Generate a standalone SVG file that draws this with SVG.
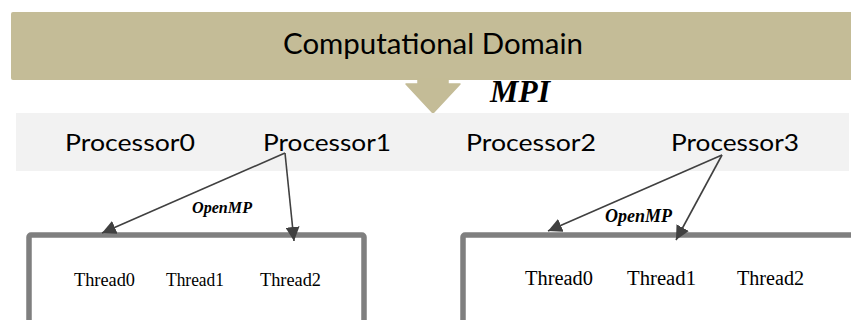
<svg xmlns="http://www.w3.org/2000/svg" width="851" height="320" viewBox="0 0 851 320">
  <style>
    .banner { fill: #C4BC97; }
    .band { fill: #F2F2F2; }
    .box { fill: #FFFFFF; stroke: #7F7F7F; stroke-width: 5.5; }
    .sans { font-family: Lato, "Open Sans", "Liberation Sans", sans-serif; fill: #000000; }
    .proc { font-size: 23px; }
    .title { font-size: 29px; }
    .serif { font-family: "Liberation Serif", "DejaVu Serif", serif; fill: #000000; }
    .label { font-weight: bold; font-style: italic; }
    .link { stroke: #404040; stroke-width: 1.6; fill: none; marker-end: url(#head); }
  </style>
  <defs>
    <marker id="head" viewBox="0 0 10 10" refX="10" refY="5" markerWidth="14" markerHeight="14" markerUnits="userSpaceOnUse" orient="auto">
      <path d="M0,0 L10,5 L0,10 Z" fill="#404040"/>
    </marker>
  </defs>

  <rect width="851" height="320" fill="#FFFFFF"/>

  <!-- top domain banner -->
  <g id="domain">
    <rect class="banner" x="11" y="12" width="850" height="68" rx="2"/>
    <text class="sans title" x="283" y="54" textLength="300" lengthAdjust="spacingAndGlyphs">Computational Domain</text>
  </g>

  <!-- decomposition arrow with MPI label -->
  <g id="mpi">
    <path class="banner" d="M418,79 L448,79 L448,84 L460,84 L433,113 L406,84 L418,84 Z" stroke="#C4BC97" stroke-width="1.5" stroke-linejoin="round"/>
    <text class="serif label" x="490" y="102" font-size="32" textLength="60" lengthAdjust="spacingAndGlyphs">MPI</text>
  </g>

  <!-- processor row -->
  <g id="processors">
    <rect class="band" x="16" y="113" width="833" height="58"/>
    <g id="processor0"><text class="sans proc" x="65" y="151" textLength="130" lengthAdjust="spacingAndGlyphs">Processor0</text></g>
    <g id="processor1"><text class="sans proc" x="263" y="151" textLength="128" lengthAdjust="spacingAndGlyphs">Processor1</text></g>
    <g id="processor2"><text class="sans proc" x="466" y="151" textLength="130" lengthAdjust="spacingAndGlyphs">Processor2</text></g>
    <g id="processor3"><text class="sans proc" x="671" y="151" textLength="128" lengthAdjust="spacingAndGlyphs">Processor3</text></g>
  </g>

  <!-- thread pool of processor 1 -->
  <g id="threads1">
    <rect class="box" x="29" y="235" width="335" height="100" rx="2"/>
    <text class="serif" x="74" y="286" font-size="18" textLength="61" lengthAdjust="spacingAndGlyphs">Thread0</text>
    <text class="serif" x="166" y="286" font-size="18" textLength="58" lengthAdjust="spacingAndGlyphs">Thread1</text>
    <text class="serif" x="260" y="286" font-size="18" textLength="61" lengthAdjust="spacingAndGlyphs">Thread2</text>
  </g>

  <!-- thread pool of processor 3 -->
  <g id="threads3">
    <rect class="box" x="463" y="235" width="400" height="100" rx="2"/>
    <text class="serif" x="525" y="285" font-size="20" textLength="68" lengthAdjust="spacingAndGlyphs">Thread0</text>
    <text class="serif" x="627" y="285" font-size="20" textLength="69" lengthAdjust="spacingAndGlyphs">Thread1</text>
    <text class="serif" x="737" y="285" font-size="20" textLength="67" lengthAdjust="spacingAndGlyphs">Thread2</text>
  </g>

  <!-- OpenMP fork connectors -->
  <g id="connectors">
    <line class="link" x1="285" y1="153" x2="102" y2="233"/>
    <line class="link" x1="285" y1="153" x2="294" y2="241"/>
    <line class="link" x1="722" y1="155" x2="548" y2="231"/>
    <line class="link" x1="722" y1="155" x2="676" y2="240"/>
    <text class="serif label" x="192" y="213" font-size="16" textLength="60" lengthAdjust="spacingAndGlyphs">OpenMP</text>
    <text class="serif label" x="605" y="222" font-size="18" textLength="67" lengthAdjust="spacingAndGlyphs">OpenMP</text>
  </g>
</svg>
